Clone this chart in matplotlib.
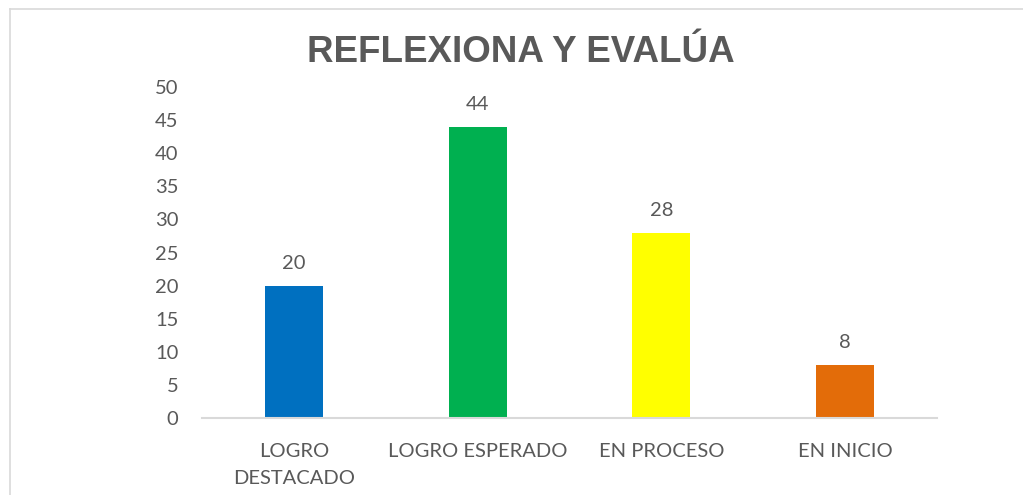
import matplotlib
matplotlib.use("Agg")
import matplotlib.pyplot as plt
from matplotlib.lines import Line2D

categories = ["LOGRO\nDESTACADO", "LOGRO ESPERADO", "EN PROCESO", "EN INICIO"]
values = [20, 44, 28, 8]
colors = ["#0070C0", "#00B050", "#FFFF00", "#E36C09"]
title = "REFLEXIONA Y EVALÚA"
yticks = [0, 5, 10, 15, 20, 25, 30, 35, 40, 45, 50]

W, H = 1023, 495
fig = plt.figure(figsize=(W / 100, H / 100), dpi=100)
fig.patch.set_facecolor("white")

ax = fig.add_axes([202 / W, 1 - 418 / H, (937 - 202) / W, (418 - 87) / H])
x = range(len(categories))
bars = ax.bar(x, values, width=0.315, color=colors, zorder=2)

ax.set_xlim(-0.5, len(categories) - 0.5)
ax.set_ylim(0, 50)
ax.set_yticks(yticks)
ax.set_xticks(list(x))
ax.set_xticklabels(categories, linespacing=1.75)

txtcol = "#595959"
font = "Lato"
fs = 14.5
for lbl in ax.get_yticklabels() + ax.get_xticklabels():
    lbl.set_fontfamily(font)
    lbl.set_fontsize(fs)
    lbl.set_color(txtcol)
ax.tick_params(axis="y", length=0, pad=17)
ax.tick_params(axis="x", length=0, pad=18)

for s in ["top", "right", "left"]:
    ax.spines[s].set_visible(False)
ax.spines["bottom"].set_color("#D9D9D9")
ax.spines["bottom"].set_linewidth(1.5)

for b, v in zip(bars, values):
    ax.annotate(str(v), (b.get_x() + b.get_width() / 2, v), xytext=(0, 10),
                textcoords="offset points", ha="center", va="bottom",
                fontsize=fs, color=txtcol, fontfamily=font)

fig.text(521 / W, 1 - 52 / H, title, ha="center", va="center",
         fontsize=26.5, fontweight="bold", color=txtcol, fontfamily="Liberation Sans")

# chart border (top and left visible)
fig.add_artist(Line2D([10 / W, 1], [1 - 9 / H, 1 - 9 / H], color="#D9D9D9", lw=1.2, transform=fig.transFigure))
fig.add_artist(Line2D([10 / W, 10 / W], [0, 1 - 9 / H], color="#D9D9D9", lw=1.2, transform=fig.transFigure))

fig.savefig("out.png", dpi=100, facecolor="white")
